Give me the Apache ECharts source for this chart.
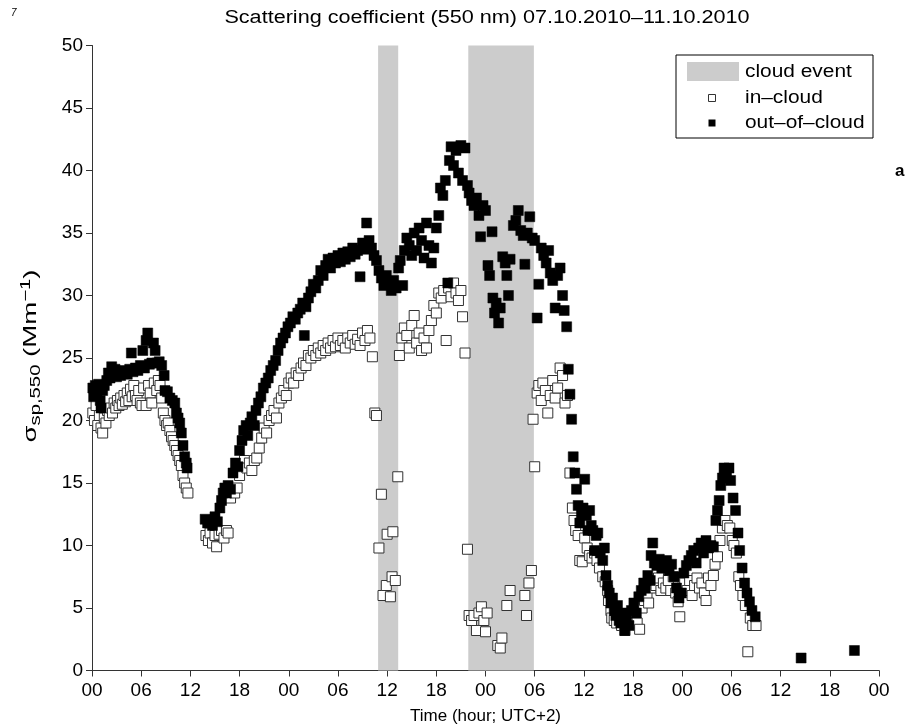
<!DOCTYPE html>
<html>
<head>
<meta charset="utf-8">
<script src="https://cdn.jsdelivr.net/npm/echarts@6/dist/echarts.min.js"></script>
<style>
html,body{margin:0;padding:0;background:#fff;}
#chart{width:910px;height:728px;}
</style>
</head>
<body>
<div id="chart"></div>
<script>
// Time in hours since 07.10.2010 00:00 (UTC+2)
const xTicks = [0, 6, 12, 18, 24, 30, 36, 42, 48, 54, 60, 66, 72, 78, 84, 90, 96];
const yTicks = [0, 5, 10, 15, 20, 25, 30, 35, 40, 45, 50];
const cloudEvents = [[34.9, 37.35], [45.9, 53.9]];

const inCloudHours = [
0.1,0.3,0.5,0.7,0.9,1.1,1.3,1.5,1.7,1.9,2.1,2.3,2.5,2.7,2.9,3.1,3.3,3.5,3.7,3.9,4.1,4.3,4.5,4.7,4.9,5.1,5.3,5.5,5.7,5.9,6.1,6.3,6.6,6.9,7.1,7.3,7.6,7.9,8.1,8.3,8.5,8.7,8.9,9.1,9.3,9.5,9.7,9.9,10.1,10.3,10.5,10.7,10.9,11.1,11.3,11.5,11.7,
13.9,14.2,14.4,14.7,15.0,15.2,15.5,15.8,16.1,16.4,16.6,16.9,17.1,17.4,17.7,18.0,18.3,18.6,18.9,19.2,19.5,19.8,20.1,20.4,20.7,21.0,21.3,21.6,21.9,22.2,22.5,22.8,23.1,23.4,23.7,24.0,24.3,24.6,24.9,25.2,25.5,25.8,26.1,26.4,26.7,27.0,27.3,27.6,27.9,28.2,28.5,28.8,29.1,29.4,29.7,30.0,30.3,30.6,30.9,31.2,31.5,31.8,32.1,32.4,32.7,33.0,33.3,33.6,33.9,34.2,34.5,34.7,35.0,35.3,35.5,35.9,36.0,36.4,36.6,36.7,37.0,37.3,37.5,37.8,38.1,38.4,38.7,39.0,39.3,39.6,39.9,40.2,40.5,40.8,41.1,41.4,41.7,42.0,42.3,42.6,42.9,43.2,43.5,43.8,44.1,44.4,44.7,45.0,45.2,45.5,45.8,
46.0,46.3,46.6,46.9,47.2,47.5,47.8,48.0,48.2,49.5,49.8,50.0,50.6,51.0,52.8,53.0,53.3,53.6,53.8,54.0,54.3,54.5,54.8,55.0,55.3,55.6,55.9,56.2,56.5,56.8,57.1,57.4,57.7,58.0,58.3,58.6,58.8,59.0,59.3,59.5,59.8,60.1,60.4,60.7,61.0,61.3,61.6,61.9,62.3,62.6,62.9,63.0,63.3,63.4,63.7,64.0,64.3,64.6,65.0,65.4,65.8,66.2,66.5,66.8,67.1,67.4,67.7,67.9,68.2,68.5,68.8,69.1,69.4,69.7,70.0,70.3,70.6,70.9,71.2,71.5,71.7,72.0,72.3,72.6,72.9,73.2,73.5,73.8,74.1,74.4,74.7,74.9,75.2,75.5,75.8,76.0,76.3,76.6,76.9,77.2,77.5,77.8,78.1,78.3,78.6,78.9,79.1,79.4,79.7,80.0,80.3,80.6,81.0
];
const inCloudValues = [
20.6,20.0,21.2,19.6,20.4,19.4,19.0,20.2,19.8,20.8,20.4,21.0,20.6,21.4,21.0,21.6,21.2,21.8,21.3,22.0,21.5,22.2,21.6,22.5,21.9,22.8,22.0,21.6,22.4,21.4,21.2,22.6,21.2,22.8,22.2,21.4,23.0,22.4,23.2,22.8,21.8,20.6,20.0,19.6,19.8,19.2,18.7,18.4,18.0,17.6,17.2,16.8,16.4,15.6,15.0,14.6,14.2,
10.8,10.4,11.0,10.2,10.8,9.9,10.9,11.2,10.6,11.2,11.0,13.8,14.4,14.2,14.6,15.6,16.4,16.8,16.2,16.6,16.0,16.8,17.0,17.8,18.6,19.4,19.0,20.0,20.4,20.8,20.2,21.4,21.8,22.4,22.0,23.0,23.4,23.0,23.8,23.6,24.2,24.6,24.4,25.2,25.0,25.6,25.2,25.8,25.4,26.0,25.6,26.2,25.8,26.4,25.9,26.6,26.0,26.4,25.8,26.6,26.2,26.8,26.1,26.5,26.0,27.0,26.4,27.2,26.6,25.1,20.6,20.4,9.8,14.1,6.0,6.8,10.9,5.9,7.5,11.1,7.2,15.5,25.2,26.6,27.4,26.8,25.8,27.6,28.4,26.2,27.0,25.6,26.6,25.8,27.2,28.0,29.2,28.6,30.2,29.8,30.4,26.4,30.6,29.9,31.0,30.2,29.6,30.4,28.3,25.4,9.7,
4.4,4.0,4.4,3.2,4.6,5.1,4.0,3.1,4.6,2.0,1.8,2.6,5.2,6.4,6.0,4.4,7.0,8.0,20.1,16.3,22.2,22.8,21.6,23.0,22.4,20.6,22.0,23.2,21.8,22.6,24.2,23.6,21.4,22.0,15.8,13.0,12.0,11.2,10.8,8.8,8.7,10.6,9.8,9.2,9.0,9.4,8.8,8.2,7.5,7.1,6.4,5.6,4.8,4.2,4.0,3.8,4.4,3.6,3.2,4.0,4.2,4.6,3.8,3.3,5.0,5.6,6.0,5.4,6.6,7.2,6.8,7.4,6.4,7.0,6.6,7.2,6.4,7.5,6.2,5.5,4.3,6.6,7.0,6.4,7.2,6.0,6.8,7.4,6.6,7.0,6.2,5.6,7.4,6.8,7.6,8.5,9.1,10.4,11.4,12.0,11.6,11.4,10.4,10.0,9.4,7.5,6.8,6.0,5.2,1.5,4.2,3.6,3.6
];

const outCloudHours = [
0.1,0.2,0.4,0.6,0.8,1.0,1.1,1.3,1.5,1.8,2.0,2.2,2.4,2.6,2.8,3.0,3.2,3.5,3.8,4.0,4.3,4.6,4.8,5.0,5.3,5.6,5.9,6.2,6.4,6.6,6.8,7.0,7.3,7.5,7.7,7.9,8.2,8.5,8.8,8.9,9.2,9.5,9.8,10.1,10.3,10.5,10.7,10.9,11.1,11.3,11.5,11.6,
13.8,14.1,14.4,14.7,15.0,15.3,15.6,15.8,16.0,16.2,16.4,16.6,16.9,17.2,17.5,17.8,18.0,18.3,18.5,18.8,19.0,19.3,19.5,19.8,20.0,20.3,20.6,20.9,21.2,21.5,21.8,22.1,22.4,22.7,23.0,23.3,23.6,23.9,24.2,24.5,24.8,25.1,25.4,25.7,25.9,26.1,26.4,26.7,27.0,27.3,27.6,27.9,28.2,28.5,28.8,29.1,29.4,29.7,30.0,30.3,30.6,30.9,31.2,31.5,31.8,32.1,32.4,32.7,33.0,33.3,33.5,33.8,34.1,34.4,
34.7,35.0,35.3,35.6,35.9,36.2,36.5,36.8,37.1,37.4,37.6,37.9,38.1,38.4,38.7,39.0,39.3,39.6,39.9,40.2,40.5,40.8,41.1,41.4,41.7,42.0,42.3,42.5,42.8,43.1,43.4,43.6,43.8,44.1,44.4,44.7,45.0,45.2,45.5,45.8,46.0,46.3,46.6,46.9,47.2,47.4,47.7,48.0,48.3,48.5,48.8,48.9,49.1,49.3,49.6,49.8,50.1,50.4,50.6,50.8,51.0,51.4,51.7,52.0,52.3,52.6,52.8,53.1,53.4,53.7,54.0,54.3,54.5,54.8,55.1,55.4,55.7,55.9,56.2,56.5,56.8,57.1,57.4,57.6,57.9,
58.1,58.3,58.5,58.7,58.9,59.1,59.3,59.5,59.7,59.9,60.1,60.3,60.5,60.7,60.9,61.1,61.3,61.5,61.7,62.0,62.3,62.5,62.7,62.9,63.1,63.3,63.5,63.7,63.9,64.1,64.3,64.5,64.8,65.0,65.2,65.5,65.8,66.1,66.4,66.7,67.0,67.3,67.5,67.8,68.1,68.2,68.4,68.6,68.9,69.2,69.5,69.8,70.1,70.4,70.7,71.0,71.3,71.6,71.9,72.2,72.5,72.8,73.1,73.4,73.7,74.0,74.3,74.6,74.9,75.2,75.5,75.8,76.1,76.3,76.5,76.7,76.9,77.1,77.4,77.7,77.9,78.2,78.5,78.8,79.0,79.3,79.6,79.9,80.2,80.5,80.9,86.5,93.0
];
const outCloudValues = [
22.6,21.9,22.8,22.3,22.9,21.6,21.0,22.4,22.8,23.2,23.8,23.4,24.3,23.7,24.1,23.5,23.9,23.6,23.8,24.0,23.7,24.1,25.4,23.9,24.2,24.0,24.4,25.6,24.2,26.4,27.0,24.5,24.6,26.2,25.6,24.6,24.7,24.4,23.6,22.4,22.3,21.8,21.6,21.4,20.6,20.2,19.8,19.0,18.0,17.1,16.6,16.2,
12.1,11.8,12.0,11.6,12.3,11.9,13.0,13.6,14.2,14.6,14.2,14.8,14.5,15.8,16.6,16.3,17.6,18.4,19.2,19.6,18.8,19.8,20.3,19.6,20.8,21.4,21.9,22.6,23.0,23.4,24.0,24.4,24.8,25.6,26.2,26.6,27.0,27.5,27.8,28.3,28.1,28.6,28.9,29.4,26.8,29.1,29.8,30.3,30.9,30.6,31.2,32.0,31.6,32.4,32.9,32.2,33.0,32.6,33.2,32.7,33.4,32.9,33.5,33.1,33.8,33.3,33.6,31.5,34.2,33.7,35.8,34.4,33.8,33.2,
32.8,32.0,31.4,30.8,31.6,31.0,30.4,31.2,30.6,32.2,32.8,30.8,33.6,34.6,34.0,33.2,35.0,33.6,35.4,34.4,33.0,35.8,34.0,32.6,33.8,35.4,36.4,38.6,38.0,39.2,31.0,40.8,41.9,40.4,41.6,39.8,42.0,39.2,41.8,38.8,38.2,37.6,37.2,37.8,36.4,34.7,37.2,36.8,32.4,31.6,35.1,29.8,28.6,29.4,27.8,29.0,33.1,32.6,31.6,30.0,32.9,35.6,36.0,36.8,35.2,34.8,32.5,35.0,36.3,34.6,34.4,28.2,30.9,33.8,33.2,32.6,33.6,31.8,31.2,29.0,31.6,32.2,30.0,28.8,27.5,
24.1,22.1,20.1,17.1,15.8,14.5,13.2,11.8,12.6,13.0,15.3,12.4,11.2,12.8,11.6,11.2,9.6,10.8,11.0,9.4,8.8,9.8,7.6,6.8,6.2,5.4,5.8,4.8,4.4,5.2,4.0,3.8,4.6,3.2,4.2,3.6,4.8,5.4,4.6,5.9,6.4,7.0,6.6,7.6,7.2,9.2,10.2,8.6,8.4,8.9,8.2,8.6,8.8,8.0,8.5,7.5,6.6,5.8,6.2,7.8,8.4,8.8,9.2,9.6,8.6,9.8,10.2,9.4,10.4,9.8,10.0,9.9,12.0,12.8,13.6,14.8,15.4,16.2,15.9,16.2,15.2,13.8,12.8,11.0,9.6,8.2,7.0,6.2,5.5,4.8,4.3,1.0,1.6
];

function pairs(xs, ys) { return xs.map((x, i) => [x, ys[i]]); }

const chart = echarts.init(document.getElementById('chart'), null, {renderer: 'canvas'});
const FONT = '"Liberation Sans", Arial, Helvetica, sans-serif';
const axisColor = '#333333';

const option = {
  backgroundColor: '#ffffff',
  animation: false,
  grid: {left: 92, right: 31, top: 45.5, bottom: 57.5, containLabel: false, outerBoundsMode: 'none'},
  xAxis: {
    type: 'value',
    min: xTicks[0], max: xTicks[xTicks.length - 1], interval: 6,
    name: 'Time (hour; UTC+2)',
    nameLocation: 'middle', nameGap: 37,
    nameTextStyle: {fontFamily: FONT, fontSize: 17, color: '#000'},
    axisLine: {show: true, onZero: false, lineStyle: {color: axisColor, width: 1}},
    axisTick: {show: true, inside: false, length: 6, lineStyle: {color: axisColor}},
    axisLabel: {
      fontFamily: FONT, fontSize: 19, color: '#000', margin: 11,
      formatter: v => String(v % 24).padStart(2, '0')
    },
    splitLine: {show: false}
  },
  yAxis: {
    type: 'value',
    min: yTicks[0], max: yTicks[yTicks.length - 1], interval: 5,
    axisLine: {show: true, lineStyle: {color: axisColor, width: 1}},
    axisTick: {show: true, inside: false, length: 6, lineStyle: {color: axisColor}},
    axisLabel: {fontFamily: FONT, fontSize: 19, color: '#000', margin: 9},
    splitLine: {show: false}
  },
  series: [
    {
      name: 'cloud event', type: 'line', data: [], silent: true, z: 1,
      markArea: {
        silent: true,
        itemStyle: {color: '#cccccc', opacity: 1},
        data: cloudEvents.map(e => [{xAxis: e[0]}, {xAxis: e[1]}])
      }
    },
    {
      name: 'in-cloud', type: 'scatter', z: 2,
      symbol: 'rect', symbolSize: 10,
      itemStyle: {color: '#ffffff', borderColor: '#333333', borderWidth: 1, opacity: 1},
      data: pairs(inCloudHours, inCloudValues)
    },
    {
      name: 'out-of-cloud', type: 'scatter', z: 3,
      symbol: 'rect', symbolSize: 10,
      itemStyle: {color: '#000000', borderColor: '#000000', borderWidth: 0.5, opacity: 1},
      data: pairs(outCloudHours, outCloudValues)
    }
  ],
  graphic: [
    {type: 'text', x: 487, y: 18, scaleX: 1.2, style: {text: 'Scattering coefficient (550 nm) 07.10.2010–11.10.2010', font: '18px ' + FONT, fill: '#000', textAlign: 'center', verticalAlign: 'middle'}},
    {type: 'text', x: 31, y: 356, rotation: Math.PI / 2, scaleX: 1.45,
      style: {
        text: '{n|σ}{sub|sp,550}{n| (Mm}{sup|−1}{n|)}',
        textAlign: 'center', verticalAlign: 'middle',
        font: '19px ' + FONT, fill: '#000',
        rich: {
          n: {font: '19px ' + FONT, fill: '#000'},
          sub: {font: '14px ' + FONT, fill: '#000', padding: [10, 0, 0, 0]},
          sup: {font: '14px ' + FONT, fill: '#000', padding: [0, 0, 10, 0]}
        }
      }},
    {type: 'text', x: 11, y: 8, style: {text: '7', font: 'italic 10px ' + FONT, fill: '#000'}},
    {type: 'text', x: 895, y: 163, style: {text: 'a', font: 'bold 17px ' + FONT, fill: '#000'}},
    {type: 'rect', shape: {x: 676, y: 55, width: 197, height: 83}, style: {fill: '#fff', stroke: '#000', lineWidth: 1}, z: 10},
    {type: 'rect', shape: {x: 687, y: 62, width: 52, height: 19}, style: {fill: '#cccccc'}, z: 11},
    {type: 'rect', shape: {x: 708.5, y: 94.5, width: 7, height: 7}, style: {fill: '#fff', stroke: '#333', lineWidth: 1}, z: 11},
    {type: 'rect', shape: {x: 708.5, y: 119.5, width: 7, height: 7}, style: {fill: '#000'}, z: 11},
    {type: 'text', x: 745, y: 72, scaleX: 1.16, style: {text: 'cloud event', font: '18px ' + FONT, fill: '#000', verticalAlign: 'middle'}, z: 11},
    {type: 'text', x: 745, y: 98, scaleX: 1.16, style: {text: 'in–cloud', font: '18px ' + FONT, fill: '#000', verticalAlign: 'middle'}, z: 11},
    {type: 'text', x: 745, y: 123, scaleX: 1.16, style: {text: 'out–of–cloud', font: '18px ' + FONT, fill: '#000', verticalAlign: 'middle'}, z: 11}
  ]
};
chart.setOption(option);
</script>
</body>
</html>
